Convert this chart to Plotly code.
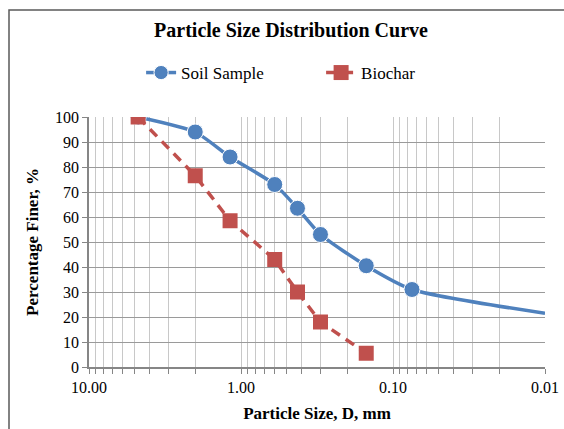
import plotly.graph_objects as go

# Data
soil_size = [4.75, 2.0, 1.18, 0.6, 0.425, 0.3, 0.15, 0.075, 0.01]
soil_finer = [100, 94, 84, 73, 63.5, 53, 40.5, 31, 21.5]
soil_marker = [16, 16, 16, 16, 16, 16, 16, 16, 0]

bio_size = [4.75, 2.0, 1.18, 0.6, 0.425, 0.3, 0.15]
bio_finer = [100, 76.5, 58.5, 43, 30, 18, 5.5]

major_vals = [10, 1, 0.1, 0.01]
major_text = ["10.00", "1.00", "0.10", "0.01"]
grid_vals = [round(m * d, 4) for d in [0.01, 0.1, 1] for m in range(1, 10)] + [10]
grid_text = []
for v in grid_vals:
    lab = ""
    for mv, mt in zip(major_vals, major_text):
        if abs(v - mv) < 1e-9:
            lab = mt
    grid_text.append(lab)

FONT = "Liberation Serif, Times New Roman, DejaVu Serif, serif"
BLUE = "#4F81BD"
RED = "#C0504D"

fig = go.Figure()
fig.add_trace(go.Scatter(
    x=soil_size, y=soil_finer, name="Soil Sample", mode="lines+markers",
    line=dict(color=BLUE, width=3.5, shape="spline", smoothing=0.6),
    marker=dict(symbol="circle", size=soil_marker, color=BLUE, opacity=1),
))
fig.add_trace(go.Scatter(
    x=bio_size, y=bio_finer, name="Biochar", mode="lines+markers",
    line=dict(color=RED, width=3.5, dash="10px,7px"),
    marker=dict(symbol="square", size=15, color=RED, opacity=1),
))

W, H = 564, 429
L, R, T, B = 89, 19, 117, 62
pw, ph = W - L - R, H - T - B

fig.update_layout(
    width=W, height=H,
    margin=dict(l=L, r=R, t=T, b=B, autoexpand=False),
    paper_bgcolor="white", plot_bgcolor="white",
    font=dict(family=FONT, color="black", size=16),
    title=dict(text="<b>Particle Size Distribution Curve</b>", x=0.516, xanchor="center",
               y=1 - 30 / H, yanchor="middle", font=dict(size=20, family=FONT)),
    legend=dict(orientation="h", x=0.509, xanchor="center", y=1 + (117 - 73) / ph, yanchor="middle",
                font=dict(size=17, family=FONT), bgcolor="rgba(0,0,0,0)", entrywidth=135),
    showlegend=True,
    xaxis=dict(
        type="log", range=[1, -2], autorange=False, automargin=False,
        tickmode="array", tickvals=grid_vals, ticktext=grid_text,
        showgrid=True, gridcolor="#C8C8C8", gridwidth=1,
        showline=True, linecolor="#868686", linewidth=1.5,
        ticks="outside", ticklen=5, tickcolor="#868686",
        tickfont=dict(size=16, family=FONT),
        title=dict(text="<b>Particle Size, D, mm</b>", font=dict(size=17, family=FONT), standoff=12),
        zeroline=False,
    ),
    xaxis2=dict(
        type="log", range=[1, -2], autorange=False, overlaying="x", automargin=False,
        tickmode="array", tickvals=major_vals, showticklabels=False,
        showgrid=True, gridcolor="#8C8C8C", gridwidth=1.5, ticks="", showline=False,
        zeroline=False,
    ),
    yaxis=dict(
        range=[0, 100], autorange=False, dtick=10, tick0=0, automargin=False,
        showgrid=True, gridcolor="#9A9A9A", gridwidth=1,
        showline=True, linecolor="#868686", linewidth=1.5,
        ticks="outside", ticklen=5, tickcolor="#868686",
        tickfont=dict(size=16, family=FONT),
        title=dict(text="<b>Percentage Finer, %</b>", font=dict(size=17, family=FONT), standoff=12),
        zeroline=False,
    ),
    shapes=[dict(type="rect", xref="paper", yref="paper",
                 x0=(9 - L) / pw, x1=(W + 5 - L) / pw,
                 y0=-(H + 5 - (T + ph)) / ph, y1=1 + (T - 10) / ph,
                 line=dict(color="#5A5A5A", width=1.5), fillcolor="rgba(0,0,0,0)", layer="below")],
)

fig.write_html("out.html", config={"displayModeBar": False},
               post_script="document.body.style.margin='0px';document.body.style.overflow='hidden';")
